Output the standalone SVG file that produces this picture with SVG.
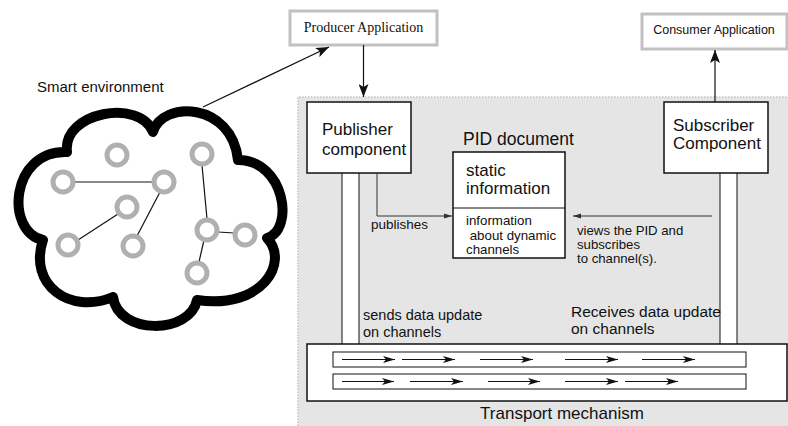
<svg xmlns="http://www.w3.org/2000/svg" width="788" height="426" viewBox="0 0 788 426">
<style>
.sans{font-family:"Liberation Sans",Arial,sans-serif;fill:#111}
.serif{font-family:"Liberation Serif","Times New Roman",serif;fill:#111}
.box{fill:#fff;stroke:#111;stroke-width:1.5}
.app{fill:#fff;stroke:#c4bfc0;stroke-width:3}
.node{fill:#fff;stroke:#b0b0b0;stroke-width:5}
.link{stroke:#111;stroke-width:1.2}
.conn{fill:none;stroke:#111;stroke-width:1.2}
.thin{fill:none;stroke:#333;stroke-width:1}
.ch{fill:none;stroke:#111;stroke-width:1}
</style>
<defs>
<marker id="big" markerUnits="userSpaceOnUse" markerWidth="14" markerHeight="10" refX="13" refY="5" orient="auto">
<path d="M0,0 L13,5 L0,10 L3,5 z" fill="#111"/>
</marker>
<marker id="small" markerUnits="userSpaceOnUse" markerWidth="8" markerHeight="6" refX="8" refY="3" orient="auto">
<path d="M0,0.5 L8,3 L0,5.5 z" fill="#333"/>
</marker>
<marker id="chm" markerUnits="userSpaceOnUse" markerWidth="12" markerHeight="8" refX="12" refY="4" orient="auto">
<path d="M0,0.5 L12,4 L0,7.5 L3,4 z" fill="#111"/>
</marker>
</defs>

<rect width="788" height="426" fill="#fff"/>

<g id="panel">
<rect x="298" y="97" width="490" height="329" fill="#e5e5e5"/>
<path d="M298,426 V97 H788" fill="none" stroke="#cfcfcf" stroke-width="2" stroke-dasharray="1.5,1.5"/>
</g>

<g id="smart-environment">
<text class="sans" x="37" y="92" font-size="15">Smart environment</text>
<path d="M67 152 C62 112,140 98,153 132 C162 100,232 102,238 160 C285 160,295 230,267 238 C290 262,262 310,197 300 C190 335,118 335,113 297 C70 315,28 285,43 240 C5 232,10 150,67 152 Z" fill="#fff" stroke="#000" stroke-width="10" stroke-linejoin="round"/>
<g>
<line class="link" x1="73" y1="182" x2="154" y2="182"/>
<line class="link" x1="118" y1="214" x2="78" y2="240"/>
<line class="link" x1="160" y1="192" x2="137" y2="236"/>
<line class="link" x1="202" y1="165" x2="207" y2="219"/>
<line class="link" x1="218" y1="232" x2="234" y2="233"/>
<line class="link" x1="204" y1="240" x2="199" y2="262"/>
</g>
<circle class="node" cx="117" cy="155" r="10"/>
<circle class="node" cx="63" cy="182" r="10"/>
<circle class="node" cx="164" cy="182" r="10"/>
<circle class="node" cx="202" cy="154" r="10"/>
<circle class="node" cx="127" cy="207" r="10"/>
<circle class="node" cx="68" cy="245" r="10"/>
<circle class="node" cx="133" cy="246" r="10"/>
<circle class="node" cx="207" cy="230" r="10"/>
<circle class="node" cx="245" cy="235" r="10"/>
<circle class="node" cx="197" cy="273" r="10"/>
</g>

<g id="producer-application">
<rect class="app" x="290" y="11" width="147" height="34"/>
<text class="serif" x="363.5" y="32" font-size="14" text-anchor="middle">Producer Application</text>
</g>

<g id="consumer-application">
<rect class="app" x="642" y="14" width="145" height="35"/>
<text class="sans" x="714" y="34" font-size="12.5" text-anchor="middle">Consumer Application</text>
</g>

<g id="publisher-component">
<rect x="342" y="173" width="17" height="171" fill="#fff"/>
<line class="ch" x1="342" y1="173" x2="342" y2="344"/>
<line class="ch" x1="359" y1="173" x2="359" y2="344"/>
<rect class="box" x="307" y="102" width="104" height="71"/>
<text class="sans" x="322" y="135" font-size="17">Publisher</text>
<text class="sans" x="322" y="155" font-size="17">component</text>
</g>

<g id="subscriber-component">
<rect x="720" y="173" width="17" height="171" fill="#fff"/>
<line class="ch" x1="720" y1="173" x2="720" y2="344"/>
<line class="ch" x1="737" y1="173" x2="737" y2="344"/>
<rect class="box" x="664" y="102" width="104" height="71"/>
<text class="sans" x="673" y="131" font-size="17">Subscriber</text>
<text class="sans" x="673" y="149" font-size="17">Component</text>
</g>

<g id="pid-document">
<text class="sans" x="463" y="145" font-size="17.5">PID document</text>
<rect class="box" x="453" y="152" width="112" height="106"/>
<line class="ch" x1="453" y1="208" x2="565" y2="208"/>
<text class="sans" x="466" y="176" font-size="17">static</text>
<text class="sans" x="466" y="194" font-size="17">information</text>
<text class="sans" x="466" y="225" font-size="13.3">information</text>
<text class="sans" x="466" y="239.5" font-size="13.3" xml:space="preserve"> about dynamic</text>
<text class="sans" x="466" y="254" font-size="13.3">channels</text>
</g>

<g id="transport-mechanism">
<rect class="box" x="307" y="344" width="480" height="57"/>
<rect class="ch" x="333" y="352" width="413" height="15" fill="#fff"/>
<rect class="ch" x="333" y="374" width="413" height="15" fill="#fff"/>
<g marker-end="url(#chm)" class="ch">
<line x1="342" y1="359.5" x2="395" y2="359.5"/>
<line x1="402" y1="359.5" x2="455" y2="359.5"/>
<line x1="480" y1="359.5" x2="533" y2="359.5"/>
<line x1="565" y1="359.5" x2="618" y2="359.5"/>
<line x1="642" y1="359.5" x2="695" y2="359.5"/>
<line x1="342" y1="381.5" x2="394" y2="381.5"/>
<line x1="410" y1="381.5" x2="463" y2="381.5"/>
<line x1="488" y1="381.5" x2="540" y2="381.5"/>
<line x1="565" y1="381.5" x2="618" y2="381.5"/>
<line x1="625" y1="381.5" x2="678" y2="381.5"/>
</g>
<text class="sans" x="562" y="419" font-size="17" text-anchor="middle">Transport mechanism</text>
</g>

<g id="connectors">
<line class="conn" x1="203" y1="107" x2="329" y2="47" marker-end="url(#big)"/>
<line class="conn" x1="363.5" y1="45" x2="363.5" y2="97" marker-end="url(#big)"/>
<line class="conn" x1="715" y1="102" x2="715" y2="50" marker-end="url(#big)"/>
<path class="thin" d="M377,173 V216 H452" marker-end="url(#small)"/>
<line class="thin" x1="712" y1="216" x2="573" y2="216" marker-end="url(#small)"/>
<text class="sans" x="371" y="229" font-size="13.5">publishes</text>
<text class="sans" x="577" y="235" font-size="13.2">views the PID and</text>
<text class="sans" x="577" y="249" font-size="13.2">subscribes</text>
<text class="sans" x="577" y="263" font-size="13.2">to channel(s).</text>
<text class="sans" x="363" y="320" font-size="14.5">sends data update</text>
<text class="sans" x="363" y="337" font-size="14.5">on channels</text>
<text class="sans" x="571" y="317" font-size="15.5">Receives data update</text>
<text class="sans" x="571" y="334" font-size="15.5">on channels</text>
</g>
</svg>
